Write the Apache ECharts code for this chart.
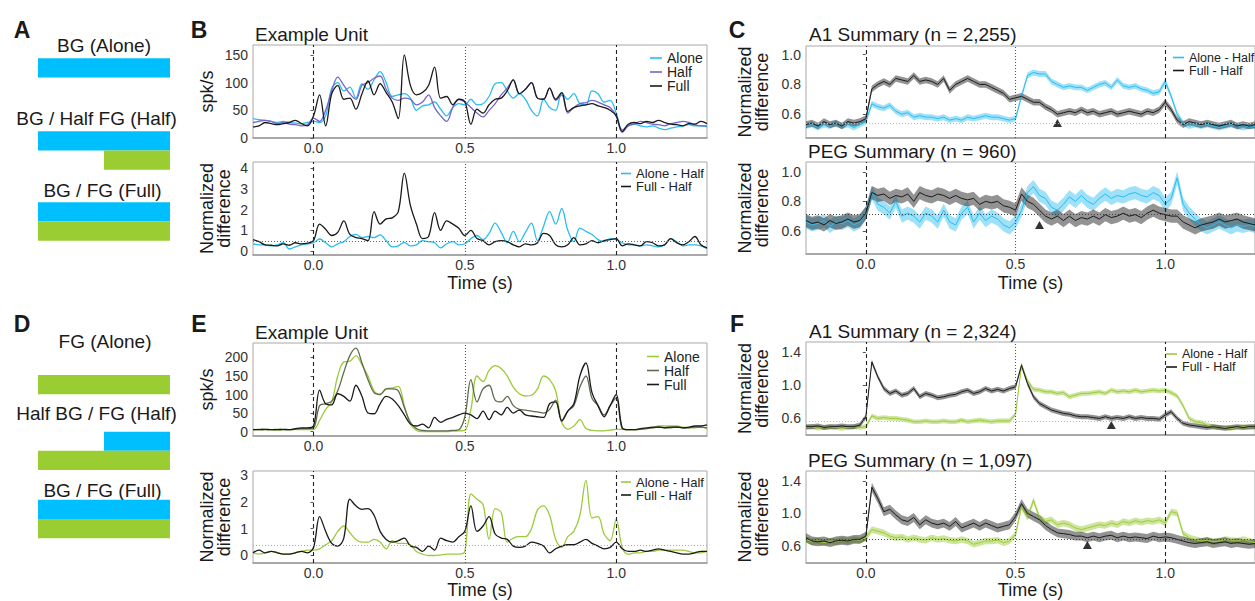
<!DOCTYPE html>
<html>
<head>
<meta charset="utf-8">
<script src="https://cdn.jsdelivr.net/npm/echarts@6/dist/echarts.min.js"></script>
<style>
  html, body { margin: 0; background: #fff; }
  #chart { width: 1255px; height: 601px; }
</style>
</head>
<body>
<div id="chart"></div>
<script>
const FONT = '"Liberation Sans", Arial, Helvetica, sans-serif';

// time bins (s)
const time = [
  -0.2, -0.18, -0.16, -0.14, -0.12, -0.1, -0.08, -0.06, -0.04, -0.02,
  0, 0.02, 0.04, 0.06, 0.08, 0.1, 0.12, 0.14, 0.16, 0.18,
  0.2, 0.22, 0.24, 0.26, 0.28, 0.3, 0.32, 0.34, 0.36, 0.38,
  0.4, 0.42, 0.44, 0.46, 0.48, 0.5, 0.52, 0.54, 0.56, 0.58,
  0.6, 0.62, 0.64, 0.66, 0.68, 0.7, 0.72, 0.74, 0.76, 0.78,
  0.8, 0.82, 0.84, 0.86, 0.88, 0.9, 0.92, 0.94, 0.96, 0.98,
  1, 1.02, 1.04, 1.06, 1.08, 1.1, 1.12, 1.14, 1.16, 1.18, 1.2, 1.22, 1.24, 1.26, 1.28, 1.3
];
const timeTicks = [0, 0.5, 1.0];
const stimEdges = [0, 1.0];
const stimMid = [0.5];

// B: example unit, BG target
const bAlone = [
  35, 33, 32, 30, 28, 30, 28, 27, 26, 28,
  30, 28, 40, 90, 100, 85, 92, 72, 98, 88,
  105, 120, 100, 75, 78, 80, 72, 50, 58, 60,
  65, 52, 40, 55, 62, 60, 70, 60, 62, 75,
  98, 100, 85, 72, 80, 70, 50, 40, 70, 55,
  50, 82, 70, 80, 62, 60, 85, 80, 65, 68,
  45, 15, 22, 25, 22, 20, 22, 18, 15, 18, 20, 22, 24, 22, 22, 20
];
const bHalf = [
  28, 30, 32, 30, 26, 28, 25, 24, 22, 24,
  36, 30, 50, 85, 110, 95, 80, 70, 95, 100,
  108, 112, 88, 72, 68, 72, 70, 60, 65, 78,
  55, 40, 30, 55, 70, 65, 55, 45, 38, 50,
  62, 78, 90, 105, 80, 88, 100, 72, 70, 90,
  68, 78, 45, 55, 62, 64, 68, 65, 60, 55,
  40, 10, 22, 25, 30, 28, 25, 24, 22, 26, 28, 30, 28, 24, 22, 22
];
const bFull = [
  20, 22, 28, 26, 24, 26, 28, 32, 26, 22,
  40, 78, 22, 80, 95, 70, 72, 52, 80, 103,
  78, 98, 82, 65, 35, 150, 95, 78, 82, 95,
  128, 72, 75, 60, 70, 65, 25, 52, 45, 60,
  70, 72, 85, 105, 80, 88, 100, 72, 70, 90,
  70, 82, 48, 55, 58, 60, 62, 58, 55, 50,
  40, 12, 25, 28, 26, 30, 28, 32, 28, 25, 24, 22, 26, 25, 30, 26
];
const bAloneDiff = [
  0.35, 0.3, 0.3, 0.25, 0.3, 0.4, 0.1, 0.2, 0.3, 0.35,
  0.4, 0.58, 0.4, 0.2, 0.35, 0.45, 0.7, 0.8, 0.65, 0.7,
  0.65, 0.78, 0.5, 0.2, 0.25, 0.42, 0.25, 0.3, 0.5, 0.45,
  0.4, 0.15, 0.35, 0.45, 0.3, 0.35, 0.6, 0.75, 0.55, 0.85,
  1.35, 0.9, 0.4, 0.95, 0.45, 0.9, 1.35, 0.5, 1.2, 1.9,
  1.3, 2.05, 1.0, 0.45, 1.1, 0.95, 0.8, 0.55, 0.45, 0.6,
  0.55, 0.4, 0.3, 0.3, 0.25, 0.3, 0.25, 0.2, 0.3, 0.6, 0.45, 0.25, 0.3, 0.3, 0.25, 0.12
];
const bFullDiff = [
  0.55, 0.45, 0.3, 0.28, 0.25, 0.35, 0.28, 0.4, 0.35, 0.38,
  0.5, 1.3, 1.05, 0.75, 0.9, 1.45, 0.8, 0.65, 0.6, 0.5,
  1.9, 1.3, 1.55, 1.6, 1.9, 3.75, 2.2, 1.3, 0.6, 0.7,
  1.85, 1.0, 1.45, 1.3, 1.1, 0.75, 1.0, 0.6, 0.5, 0.3,
  0.45, 0.5, 0.45, 0.3, 0.2, 0.35, 0.3, 0.4, 0.85, 0.75,
  0.3, 0.2, 0.3, 0.65, 0.3, 0.35, 0.5, 0.4, 0.5, 0.55,
  0.6, 0.25, 0.35, 0.3, 0.25, 0.45, 0.4, 0.25, 0.3, 0.6, 0.4, 0.3, 0.45, 0.7, 0.3, 0.15
];
const bBaseline = 0.48;

// C: BG summaries (mean and s.e.m.)
const cA1Alone = [
  0.52, 0.53, 0.51, 0.53, 0.52, 0.54, 0.52, 0.53, 0.51, 0.53,
  0.55, 0.67, 0.65, 0.64, 0.66, 0.62, 0.60, 0.61, 0.58, 0.59,
  0.58, 0.58, 0.57, 0.58, 0.56, 0.57, 0.56, 0.58, 0.57, 0.58,
  0.59, 0.58, 0.58, 0.57, 0.56, 0.57, 0.72, 0.86, 0.88, 0.87,
  0.87, 0.82, 0.80, 0.78, 0.79, 0.78, 0.78, 0.76, 0.78, 0.80,
  0.81, 0.78, 0.83, 0.79, 0.78, 0.79, 0.77, 0.76, 0.74, 0.75,
  0.82, 0.72, 0.60, 0.54, 0.52, 0.53, 0.52, 0.53, 0.52, 0.51, 0.52, 0.53, 0.52, 0.51, 0.52, 0.52
];
const cA1Full = [
  0.53, 0.54, 0.52, 0.55, 0.53, 0.54, 0.52, 0.55, 0.54, 0.55,
  0.57, 0.77, 0.80, 0.82, 0.80, 0.84, 0.83, 0.82, 0.86, 0.82,
  0.83, 0.82, 0.80, 0.84, 0.76, 0.80, 0.82, 0.84, 0.82, 0.80,
  0.80, 0.78, 0.76, 0.74, 0.70, 0.71, 0.72, 0.70, 0.68, 0.68,
  0.65, 0.63, 0.60, 0.61, 0.62, 0.61, 0.63, 0.61, 0.62, 0.60,
  0.61, 0.62, 0.60, 0.61, 0.62, 0.61, 0.60, 0.62, 0.61, 0.63,
  0.68, 0.63, 0.56, 0.53, 0.55, 0.54, 0.53, 0.54, 0.53, 0.52, 0.53, 0.54, 0.52, 0.53, 0.52, 0.53
];
const cPegAlone = [
  0.66, 0.64, 0.65, 0.67, 0.63, 0.66, 0.65, 0.67, 0.64, 0.66,
  0.72, 0.86, 0.78, 0.76, 0.72, 0.80, 0.70, 0.72, 0.70, 0.66,
  0.72, 0.70, 0.66, 0.74, 0.66, 0.64, 0.72, 0.76, 0.66, 0.72,
  0.67, 0.70, 0.68, 0.64, 0.62, 0.66, 0.74, 0.86, 0.90, 0.84,
  0.82, 0.76, 0.74, 0.78, 0.83, 0.80, 0.84, 0.80, 0.78, 0.82,
  0.85, 0.82, 0.84, 0.83, 0.85, 0.86, 0.84, 0.83, 0.86, 0.84,
  0.78, 0.82, 0.96, 0.78, 0.72, 0.68, 0.64, 0.62, 0.64, 0.66, 0.64, 0.62, 0.64, 0.63, 0.64, 0.63
];
const cPegFull = [
  0.67, 0.65, 0.66, 0.64, 0.67, 0.65, 0.66, 0.68, 0.66, 0.67,
  0.72, 0.86, 0.84, 0.85, 0.82, 0.84, 0.83, 0.85, 0.80, 0.86,
  0.84, 0.83, 0.85, 0.84, 0.82, 0.84, 0.82, 0.81, 0.82, 0.78,
  0.80, 0.79, 0.80, 0.77, 0.76, 0.74, 0.85, 0.80, 0.78, 0.74,
  0.70, 0.68, 0.70, 0.67, 0.70, 0.67, 0.69, 0.68, 0.70, 0.68,
  0.71, 0.69, 0.70, 0.72, 0.70, 0.71, 0.69, 0.72, 0.74, 0.72,
  0.71, 0.70, 0.70, 0.66, 0.64, 0.62, 0.64, 0.65, 0.66, 0.68, 0.66, 0.67, 0.68, 0.66, 0.65, 0.64
];
const cA1Sem = [0.02, 0.022];   // [Alone - Half, Full - Half]
const cPegSem = [0.045, 0.045];
const cA1Baseline = 0.535;
const cPegBaseline = 0.712;
const cA1Marker = [0.64, 0.54];
const cPegMarker = [0.58, 0.64];

// E: example unit, FG target
const eAlone = [
  5, 5, 6, 5, 4, 5, 5, 6, 5, 5,
  5, 30, 60, 80, 150, 188, 190, 205, 180, 150,
  110, 100, 115, 118, 122, 70, 20, 3, 0, 0,
  0, 0, 0, 1, 2, 3, 60, 150, 135, 165,
  178, 170, 150, 120, 102, 96, 98, 115, 150, 140,
  110, 25, 6, 15, 32, 8, 3, 2, 2, 4,
  6, 6, 5, 5, 6, 8, 10, 15, 15, 15, 15, 12, 10, 10, 12, 8
];
const eHalf = [
  5, 6, 5, 5, 6, 5, 5, 6, 8, 8,
  10, 70, 75, 82, 110, 160, 205, 225, 185, 140,
  105, 100, 115, 115, 110, 65, 25, 8, 3, 2,
  2, 2, 2, 3, 5, 40, 140, 80, 115, 125,
  85, 80, 95, 70, 60, 58, 55, 53, 50, 60,
  85, 30, 55, 70, 120, 150, 90, 70, 45, 70,
  90, 8, 5, 5, 6, 8, 10, 12, 10, 10, 12, 10, 10, 12, 12, 10
];
const eFull = [
  5, 5, 6, 5, 5, 6, 5, 8, 10, 10,
  15, 112, 75, 72, 102, 95, 82, 125, 95, 50,
  48, 75, 95, 88, 70, 45, 20, 15, 20, 10,
  38, 25, 33, 38, 45, 50, 45, 35, 55, 32,
  55, 45, 65, 50, 58, 45, 42, 40, 38, 75,
  80, 28, 55, 75, 150, 185, 105, 70, 40, 70,
  100, 10, 5, 5, 8, 10, 12, 12, 10, 12, 12, 10, 12, 15, 15, 18
];
const eAloneDiff = [
  0.1, 0.05, 0.1, 0.15, 0.12, 0.05, 0.05, 0.1, 0.15, 0.2,
  0.2, 0.25, 0.4, 0.55, 0.9, 1.1, 0.85, 0.6, 0.5, 0.5,
  0.6, 0.5, 0.25, 0.55, 0.45, 0.45, 0.4, 0.15, 0.05, 0.0,
  0.0, 0.02, 0.05, 0.05, 0.05, 0.15, 2.3, 2.1, 1.9, 0.6,
  1.75, 1.6, 0.5, 0.65, 0.7, 0.7, 1.0, 1.7, 1.85, 1.5,
  0.6, 0.3, 0.7, 0.9, 1.5, 2.8, 1.4, 1.45, 0.8, 0.55,
  1.35, 0.3, 0.05, 0.1, 0.1, 0.15, 0.15, 0.2, 0.2, 0.2, 0.2, 0.2, 0.15, 0.1, 0.1, 0.15
];
const eFullDiff = [
  0.1, 0.2, 0.1, 0.15, 0.1, 0.05, 0.05, 0.1, 0.15, 0.1,
  0.3, 1.45, 0.9, 0.45, 0.35, 0.65, 2.1, 1.85, 1.72, 1.75,
  1.5, 0.9, 0.6, 0.5, 0.55, 0.65, 0.35, 0.3, 0.15, 0.35,
  0.2, 0.65, 0.55, 0.5, 0.7, 0.9, 1.85, 0.9, 1.1, 1.45,
  0.8, 0.65, 0.6, 0.35, 0.3, 0.35, 0.5, 0.45, 0.35, 0.1,
  0.25, 0.35, 0.4, 0.4, 0.5, 0.6, 0.45, 0.35, 0.25, 0.3,
  0.5, 0.25, 0.15, 0.15, 0.2, 0.15, 0.2, 0.25, 0.2, 0.15, 0.1, 0.05, 0.05, 0.1, 0.15, 0.15
];
const eBaseline = 0.4;

// F: FG summaries
const fA1Alone = [
  0.49, 0.50, 0.48, 0.49, 0.50, 0.49, 0.48, 0.49, 0.50, 0.49,
  0.50, 0.63, 0.60, 0.61, 0.60, 0.60, 0.59, 0.58, 0.56, 0.56,
  0.57, 0.56, 0.56, 0.57, 0.56, 0.56, 0.58, 0.56, 0.57, 0.58,
  0.57, 0.56, 0.57, 0.57, 0.57, 0.65, 1.24, 1.05, 0.95, 0.94,
  0.92, 0.92, 0.90, 0.91, 0.86, 0.88, 0.90, 0.90, 0.91, 0.92,
  0.90, 0.94, 0.92, 0.93, 0.92, 0.94, 0.92, 0.93, 0.94, 0.93,
  0.94, 0.91, 0.87, 0.75, 0.60, 0.56, 0.55, 0.52, 0.50, 0.49, 0.49, 0.48, 0.49, 0.50, 0.49, 0.50
];
const fA1Full = [
  0.50, 0.50, 0.51, 0.49, 0.50, 0.50, 0.51, 0.50, 0.50, 0.52,
  0.62, 1.28, 1.10, 0.96, 0.90, 0.93, 0.88, 0.90, 0.96, 0.86,
  0.90, 0.88, 0.85, 0.86, 0.88, 0.89, 0.92, 0.94, 0.90, 0.92,
  0.96, 0.93, 0.95, 0.93, 0.96, 0.98, 1.24, 1.02, 0.86, 0.78,
  0.74, 0.70, 0.68, 0.66, 0.65, 0.63, 0.62, 0.62, 0.61, 0.60,
  0.62, 0.60, 0.61, 0.60, 0.62, 0.60, 0.61, 0.60, 0.60, 0.59,
  0.64, 0.68, 0.60, 0.54, 0.52, 0.51, 0.50, 0.49, 0.50, 0.49, 0.48, 0.49, 0.50, 0.49, 0.50, 0.50
];
const fPegAlone = [
  0.68, 0.65, 0.66, 0.64, 0.66, 0.65, 0.67, 0.66, 0.68, 0.67,
  0.70, 0.80, 0.78, 0.76, 0.72, 0.70, 0.71, 0.68, 0.70, 0.68,
  0.67, 0.70, 0.68, 0.69, 0.67, 0.66, 0.68, 0.66, 0.62, 0.64,
  0.66, 0.66, 0.67, 0.64, 0.66, 0.74, 1.08, 0.95, 1.16, 0.95,
  0.90, 0.92, 0.86, 0.88, 0.86, 0.82, 0.80, 0.82, 0.84, 0.86,
  0.85, 0.88, 0.86, 0.90, 0.88, 0.91, 0.89, 0.91, 0.90, 0.92,
  0.88, 1.02, 1.00, 0.75, 0.70, 0.68, 0.66, 0.67, 0.65, 0.66, 0.68, 0.67, 0.66, 0.68, 0.66, 0.64
];
const fPegFull = [
  0.70, 0.66, 0.65, 0.66, 0.64, 0.66, 0.67, 0.66, 0.68, 0.68,
  0.72, 1.32, 1.18, 1.02, 1.05, 0.98, 0.92, 0.90, 0.95, 0.86,
  0.92, 0.88, 0.86, 0.88, 0.84, 0.90, 0.82, 0.85, 0.88, 0.84,
  0.88, 0.85, 0.82, 0.84, 0.86, 0.96, 1.12, 1.00, 0.96, 0.92,
  0.85, 0.80, 0.76, 0.75, 0.74, 0.72, 0.72, 0.70, 0.72, 0.70,
  0.72, 0.73, 0.70, 0.72, 0.70, 0.71, 0.70, 0.69, 0.72, 0.70,
  0.71, 0.70, 0.68, 0.66, 0.64, 0.63, 0.64, 0.65, 0.63, 0.64, 0.65, 0.63, 0.64, 0.63, 0.62, 0.63
];
const fA1Sem = [0.028, 0.03];
const fPegSem = [0.04, 0.055];
const fA1Baseline = 0.567;
const fPegBaseline = 0.68;
const fA1Marker = [0.82, 0.52];
const fPegMarker = [0.74, 0.61];

// A / D: stimulus schematics, [stream, onset as fraction of the stimulus]
const schemA = [[['BG', 0]], [['BG', 0], ['FG', 0.5]], [['BG', 0], ['FG', 0]]];
const schemALabels = ['BG (Alone)', 'BG / Half FG (Half)', 'BG / FG (Full)'];
const schemD = [[['FG', 0]], [['BG', 0.5], ['FG', 0]], [['BG', 0], ['FG', 0]]];
const schemDLabels = ['FG (Alone)', 'Half BG / FG (Half)', 'BG / FG (Full)'];

const blue = '#29BDEF';
const purple = '#7565CB';
const black = '#1a1a1a';
const green = '#9CCB3B';
const olive = '#5F6B4E';
const bandBlue = 'rgba(41,189,239,0.45)';
const bandGray = 'rgba(40,40,40,0.5)';
const bandGreen = 'rgba(156,203,59,0.5)';
const streamColor = { BG: '#00BFFF', FG: '#9ACD32' };

const grids = [], xAxes = [], yAxes = [], series = [], legends = [], titles = [], graphics = [];

function addPanel(box, o) {
  const gi = grids.length;
  grids.push(Object.assign({ show: true, borderColor: '#a8a8a8', borderWidth: 1 }, box));
  xAxes.push({
    type: 'value', gridIndex: gi, min: -0.2, max: 1.3,
    axisLine: { show: true, onZero: false, lineStyle: { color: '#9a9a9a', width: 1.5 } },
    axisTick: { show: false },
    splitLine: { show: false },
    axisLabel: {
      show: !!o.xLabels, customValues: timeTicks, formatter: v => v.toFixed(1),
      fontFamily: FONT, fontSize: 14, color: '#333', margin: 3
    },
    name: o.xName || '', nameLocation: 'middle', nameGap: o.xNameGap || 20,
    nameTextStyle: { fontFamily: FONT, fontSize: 18, color: black }
  });
  yAxes.push({
    type: 'value', gridIndex: gi, min: o.yRange[0], max: o.yRange[1],
    axisLine: { show: false },
    splitLine: { show: false },
    axisTick: { show: true, length: 3, customValues: o.yTicks, lineStyle: { color: '#555' } },
    axisLabel: {
      customValues: o.yTicks, formatter: o.yFmt,
      fontFamily: FONT, fontSize: 14, color: '#333', margin: 5
    },
    name: o.yName, nameLocation: 'middle', nameGap: o.yNameGap,
    nameTextStyle: { fontFamily: FONT, fontSize: 18, color: black, lineHeight: 17 }
  });
  return gi;
}

function refMarks(hLine, hColor) {
  const data = [];
  stimEdges.forEach(v => data.push({ xAxis: v, lineStyle: { type: [4, 3], color: '#222', width: 1.1 } }));
  stimMid.forEach(v => data.push({ xAxis: v, lineStyle: { type: [1, 2], color: '#555', width: 1.1 } }));
  if (hLine != null) data.push({ yAxis: hLine, lineStyle: { type: [1, 2], color: hColor, width: 1 } });
  return { silent: true, symbol: ['none', 'none'], label: { show: false }, animation: false, data };
}

function addLine(gi, name, vals, color, width, marks, smooth) {
  const s = {
    type: 'line', name, xAxisIndex: gi, yAxisIndex: gi,
    data: time.map((t, k) => [t, vals[k]]),
    symbol: 'none', smooth: smooth || false,
    lineStyle: { color, width }, itemStyle: { color },
    z: 3, silent: true, animation: false
  };
  if (marks) s.markLine = marks;
  series.push(s);
}

// s.e.m. band drawn as one polygon through the axis scales
function addBand(gi, vals, sem, color) {
  series.push({
    type: 'custom', xAxisIndex: gi, yAxisIndex: gi, silent: true, z: 1, clip: true,
    data: time.map((t, k) => [t, vals[k] - sem, vals[k] + sem]),
    encode: { x: 0, y: [1, 2] },
    renderItem: (params, api) => {
      if (params.dataIndex !== 0) return null;
      const upper = [], lower = [];
      for (let k = 0; k < time.length; k++) {
        upper.push(api.coord([time[k], vals[k] + sem]));
        lower.unshift(api.coord([time[k], vals[k] - sem]));
      }
      return { type: 'polygon', shape: { points: upper.concat(lower) }, style: { fill: color } };
    }
  });
}

function addMarker(gi, pt) {
  series.push({
    type: 'scatter', xAxisIndex: gi, yAxisIndex: gi, data: [pt],
    symbol: 'triangle', symbolSize: [9, 8], itemStyle: { color: '#000' }, z: 4, silent: true
  });
}

function addLegend(left, top, names, fontSize, rowH, iconW) {
  legends.push({
    orient: 'vertical', left, top, padding: 0, itemGap: 0,
    icon: 'rect', itemWidth: iconW, itemHeight: 1.6, selectedMode: false, data: names,
    textStyle: { fontFamily: FONT, fontSize, color: '#222', lineHeight: rowH }
  });
}

function addTitle(text, left, top) {
  titles.push({
    text, left, top, padding: 0,
    textStyle: { fontFamily: FONT, fontSize: 19, fontWeight: 'normal', color: black }
  });
}

const intFmt = v => String(Math.round(v));
const decFmt = v => v.toFixed(1);

// ---- B ----
const gB1 = addPanel({ left: 253, top: 45, width: 454, height: 93 },
  { yRange: [0, 168], yTicks: [0, 50, 100, 150], yFmt: intFmt, yName: 'spk/s', yNameGap: 38, xLabels: true });
addLine(gB1, 'Alone', bAlone, blue, 1.3, refMarks(), 0.35);
addLine(gB1, 'Half', bHalf, purple, 1.3, null, 0.35);
addLine(gB1, 'Full', bFull, black, 1.3, null, 0.35);
addLegend(650, 51, ['Alone', 'Half', 'Full'], 14, 13.5, 12);
addTitle('Example Unit', 255, 25);

const gB2 = addPanel({ left: 253, top: 162, width: 454, height: 93 },
  { yRange: [-0.19, 4.29], yTicks: [0, 1, 2, 3, 4], yFmt: intFmt, yName: 'Normalized\ndifference', yNameGap: 21,
    xLabels: true, xName: 'Time (s)', xNameGap: 19 });
addLine(gB2, 'Alone - Half', bAloneDiff, blue, 1.3, refMarks(bBaseline, '#666'), 0.35);
addLine(gB2, 'Full - Half', bFullDiff, black, 1.3, null, 0.35);
addLegend(621, 167, ['Alone - Half', 'Full - Half'], 13, 12, 10);

// ---- C ----
const gC1 = addPanel({ left: 806, top: 46, width: 453, height: 92 },
  { yRange: [0.44, 1.058], yTicks: [0.6, 0.8, 1.0], yFmt: decFmt, yName: 'Normalized\ndifference', yNameGap: 36 });
addBand(gC1, cA1Alone, cA1Sem[0], bandBlue);
addBand(gC1, cA1Full, cA1Sem[1], bandGray);
addLine(gC1, 'Alone - Half', cA1Alone, blue, 1, refMarks(cA1Baseline, '#bbb'));
addLine(gC1, 'Full - Half', cA1Full, black, 1);
addMarker(gC1, cA1Marker);
addLegend(1173, 51, ['Alone - Half', 'Full - Half'], 12.5, 11.7, 11);
addTitle('A1 Summary (n = 2,255)', 809, 25);

const gC2 = addPanel({ left: 806, top: 162, width: 453, height: 92 },
  { yRange: [0.443, 1.067], yTicks: [0.6, 0.8, 1.0], yFmt: decFmt, yName: 'Normalized\ndifference', yNameGap: 36,
    xLabels: true, xName: 'Time (s)', xNameGap: 20 });
addBand(gC2, cPegAlone, cPegSem[0], bandBlue);
addBand(gC2, cPegFull, cPegSem[1], bandGray);
addLine(gC2, 'Alone - Half', cPegAlone, blue, 1, refMarks(cPegBaseline, '#444'));
addLine(gC2, 'Full - Half', cPegFull, black, 1);
addMarker(gC2, cPegMarker);
addTitle('PEG Summary (n = 960)', 808, 142);

// ---- E ----  (names carry a trailing space so the green legend stays separate)
const gE1 = addPanel({ left: 253, top: 343, width: 454, height: 93 },
  { yRange: [-12, 239], yTicks: [0, 50, 100, 150, 200], yFmt: intFmt, yName: 'spk/s', yNameGap: 38, xLabels: true });
addLine(gE1, 'Alone ', eAlone, green, 1.3, refMarks(), 0.35);
addLine(gE1, 'Half ', eHalf, olive, 1.3, null, 0.35);
addLine(gE1, 'Full ', eFull, black, 1.3, null, 0.35);
addLegend(647, 349.5, ['Alone ', 'Half ', 'Full '], 14, 13.7, 12);
addTitle('Example Unit', 255, 323);

const gE2 = addPanel({ left: 253, top: 471, width: 454, height: 92 },
  { yRange: [-0.28, 3.15], yTicks: [0, 1, 2, 3], yFmt: intFmt, yName: 'Normalized\ndifference', yNameGap: 21,
    xLabels: true, xName: 'Time (s)', xNameGap: 17 });
addLine(gE2, 'Alone - Half ', eAloneDiff, green, 1.3, refMarks(eBaseline, '#aaa'), 0.35);
addLine(gE2, 'Full - Half ', eFullDiff, black, 1.3, null, 0.35);
addLegend(621, 475.5, ['Alone - Half ', 'Full - Half '], 13, 12.6, 10);

// ---- F ----
const gF1 = addPanel({ left: 806, top: 342, width: 453, height: 93 },
  { yRange: [0.4, 1.52], yTicks: [0.6, 1.0, 1.4], yFmt: decFmt, yName: 'Normalized\ndifference', yNameGap: 36 });
addBand(gF1, fA1Alone, fA1Sem[0], bandGreen);
addBand(gF1, fA1Full, fA1Sem[1], bandGray);
addLine(gF1, 'Alone - Half ', fA1Alone, green, 1, refMarks(fA1Baseline, '#bbb'));
addLine(gF1, 'Full - Half ', fA1Full, black, 1);
addMarker(gF1, fA1Marker);
addLegend(1166, 347.5, ['Alone - Half ', 'Full - Half '], 12.5, 11.7, 11);
addTitle('A1 Summary (n = 2,324)', 809, 322);

const gF2 = addPanel({ left: 806, top: 471, width: 453, height: 92 },
  { yRange: [0.39, 1.52], yTicks: [0.6, 1.0, 1.4], yFmt: decFmt, yName: 'Normalized\ndifference', yNameGap: 36,
    xLabels: true, xName: 'Time (s)', xNameGap: 18 });
addBand(gF2, fPegAlone, fPegSem[0], bandGreen);
addBand(gF2, fPegFull, fPegSem[1], bandGray);
addLine(gF2, 'Alone - Half ', fPegAlone, green, 1, refMarks(fPegBaseline, '#444'));
addLine(gF2, 'Full - Half ', fPegFull, black, 1);
addMarker(gF2, fPegMarker);
addTitle('PEG Summary (n = 1,097)', 808, 451);

// ---- A / D schematics ----
function addSchematic(box, conds, groupRows, totalRows) {
  const gi = grids.length;
  grids.push(Object.assign({ show: false }, box));
  xAxes.push({ type: 'value', gridIndex: gi, min: 0, max: 1, show: false });
  yAxes.push({ type: 'value', gridIndex: gi, min: 0, max: totalRows, inverse: true, show: false });
  const data = [];
  conds.forEach((streams, c) => {
    streams.forEach(([stream, onset], r) => {
      const row = groupRows[c] + r;
      data.push([onset, 1, row, row + 1, stream === 'FG' ? 1 : 0]);
    });
  });
  series.push({
    type: 'custom', xAxisIndex: gi, yAxisIndex: gi, data, silent: true,
    encode: { x: [0, 1], y: [2, 3] },
    renderItem: (params, api) => {
      const a = api.coord([api.value(0), api.value(2)]);
      const b = api.coord([api.value(1), api.value(3)]);
      return {
        type: 'rect',
        shape: { x: a[0], y: a[1], width: b[0] - a[0], height: b[1] - a[1] },
        style: { fill: api.value(4) ? streamColor.FG : streamColor.BG }
      };
    }
  });
}
addSchematic({ left: 38, top: 58.3, width: 132, height: 182.4 }, schemA, [0, 3.8, 7.5], 9.5);
addSchematic({ left: 38, top: 375, width: 132, height: 163.2 }, schemD, [0, 2.95, 6.5], 8.5);

function addText(text, x, y, font) {
  graphics.push({
    type: 'text', x, y, silent: true,
    style: { text, font, fill: black, align: 'center', verticalAlign: 'middle', textAlign: 'center', textVerticalAlign: 'middle' }
  });
}
const labelFont = '19px ' + FONT;
[[104, 45], [96.5, 118], [102.5, 190]].forEach((p, i) => addText(schemALabels[i], p[0], p[1], labelFont));
[[105, 341], [96.5, 413], [102.5, 490]].forEach((p, i) => addText(schemDLabels[i], p[0], p[1], labelFont));

const letterFont = 'bold 23px ' + FONT;
[['A', 22, 30], ['B', 199, 30], ['C', 737, 30], ['D', 22, 324], ['E', 199, 324], ['F', 737, 324]]
  .forEach(([t, x, y]) => addText(t, x, y, letterFont));

const chart = echarts.init(document.getElementById('chart'), null, { renderer: 'svg' });
chart.setOption({
  animation: false,
  backgroundColor: '#fff',
  title: titles,
  legend: legends,
  grid: grids,
  xAxis: xAxes,
  yAxis: yAxes,
  series,
  graphic: graphics
});
</script>
</body>
</html>
